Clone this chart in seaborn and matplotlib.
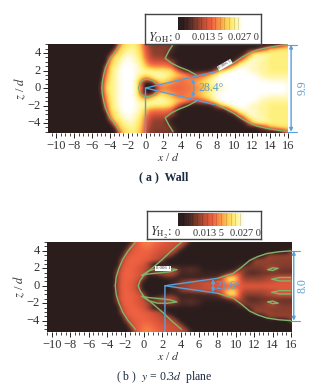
import numpy as np
import matplotlib
matplotlib.use("Agg")
import matplotlib.pyplot as plt
from matplotlib.colors import LinearSegmentedColormap
from matplotlib.ticker import MultipleLocator
from matplotlib.transforms import ScaledTranslation
import seaborn as sns

# field values in 1e-3, columns x = -6 ... 16 every 0.5 d, rows z = 0 ... 5 every 0.5 d
oh_z00 = [1,1,6,20,23, 24,26,27,27,27, 25,16,2,1,4, 14,15,15,14,14, 14,15,15,16,17, 18,20,22,23,25, 26,27,27,27,27, 27,27,27,27,27, 27,27,27,27,26]
oh_z05 = [1,1,5,19,23, 24,26,27,27,27, 24,12,2,1,6, 18,19,18,16,15, 15,15,16,17,19, 21,23,25,26,27, 27,27,27,27,27, 27,27,27,27,27, 27,27,27,27,26]
oh_z10 = [1,1,3,17,22, 24,26,27,27,27, 25,19,13,16,22, 23,23,21,19,16, 14,16,16,17,18, 20,22,24,26,27, 27,27,27,27,27, 27,27,27,26,26, 25,25,25,25,25]
oh_z15 = [1,1,2,15,22, 24,26,27,27,27, 26,24,23,24,25, 25,25,24,22,21, 20,18,14,10,12, 14,17,22,25,27, 27,27,27,27,27, 27,27,26,25,24, 24,24,24,24,24]
oh_z20 = [1,1,1,12,21, 24,26,27,27,27, 26,25,24,24,23, 23,23,22,21,15, 8,3,2,2,2, 2,2,4,12,20, 24,26,27,27,27, 26,25,25,24,24, 23,23,23,23,23]
oh_z25 = [1,1,1,8,21, 23,25,27,27,27, 26,24,20,17,16, 16,16,15,13,4, 2,2,2,2,2, 2,2,2,2,2, 4,15,22,25,26, 26,25,25,24,24, 23,23,23,23,23]
oh_z30 = [1,1,1,2,18, 22,24,26,27,26, 25,23,18,13,12, 12,12,12,9,4, 2,2,2,2,2, 2,2,2,2,2, 2,2,5,18,22, 25,26,25,24,24, 23,23,23,23,23]
oh_z35 = [1,1,1,1,13, 22,23,25,26,26, 24,22,15,11,9, 9,9,6,2,2, 2,2,2,2,2, 2,2,2,2,2, 2,2,2,3,12, 21,24,25,25,24, 23,23,23,23,23]
oh_z40 = [1,1,1,1,3, 17,21,23,25,25, 23,21,14,10,8, 8,8,6,3,2, 2,2,2,2,2, 2,2,2,2,2, 2,2,2,2,2, 10,20,23,24,24, 24,23,23,23,23]
oh_z45 = [1,1,1,1,1, 5,20,22,23,24, 23,20,13,9,8, 8,8,8,5,2, 2,2,2,2,2, 2,2,2,2,2, 2,2,2,2,2, 2,2,3,8,12, 18,20,22,22,22]
oh_z50 = [1,1,1,1,1, 1,12,21,22,23, 22,19,12,8,7, 7,7,7,7,4, 2,2,2,2,2, 2,2,2,2,2, 2,2,2,2,2, 2,2,2,2,2, 2,2,3,8,14]

h2_z00 = [1,1,1,1,1, 1,9,13,14,13, 12,8,1,1,1, 1,1,2,8,9, 9,9,10,10,10, 11,11,11,12,12, 13,13,13,13,13, 13,13,13,13,13, 13,13,13,13,13]
h2_z05 = [1,1,1,1,1, 1,8,13,14,13, 12,9,2,1,1, 1,1,1,2,3, 8,9,10,11,11, 12,12,13,13,15, 19,21,18,12,10, 10,10,10,10,11, 11,12,12,12,12]
h2_z10 = [1,1,1,1,1, 1,8,13,14,14, 13,12,9,2,1, 2,4,6,6,4, 3,3,3,3,3, 4,4,5,6,12, 21,23,19,10,8, 8,8,8,9,10, 11,12,12,12,12]
h2_z15 = [1,1,1,1,1, 1,8,13,14,14, 13,12,11,4,8, 10,11,11,11,9, 4,5,5,5,4, 3,3,3,3,3, 5,8,12,10,6, 5,5,6,6,6, 6,6,6,6,6]
h2_z20 = [1,1,1,1,1, 1,5,12,14,14, 13,12,11,10,6, 6,7,8,8,7, 5,5,6,5,4, 2,2,2,2,2, 2,2,4,8,8, 7,7,7,8,10, 10,8,7,7,7]
h2_z25 = [1,1,1,1,1, 1,1,11,13,14, 14,13,12,8,3, 2,2,2,2,2, 2,2,2,2,2, 1,1,1,1,1, 1,1,2,3,4, 7,8,8,8,8, 8,8,8,8,8]
h2_z30 = [1,1,1,1,1, 1,1,9,13,14, 14,14,13,13,12, 11,8,2,1,1, 1,1,1,1,1, 1,1,1,1,1, 1,1,1,1,1, 3,9,9,9,9, 8,8,8,8,8]
h2_z35 = [1,1,1,1,1, 1,1,3,12,13, 14,14,14,13,12, 11,11,10,7,2, 1,1,1,1,1, 1,1,1,1,1, 1,1,1,1,1, 1,1,1,4,9, 9,9,9,9,9]
h2_z40 = [1,1,1,1,1, 1,1,1,8,12, 13,14,14,14,13, 12,11,11,11,9, 2,1,1,1,1, 1,1,1,1,1, 1,1,1,1,1, 1,1,1,1,1, 1,1,1,2,9]
h2_z45 = [1,1,1,1,1, 1,1,1,2,11, 13,14,15,15,14, 13,12,12,11,11, 10,3,1,1,1, 1,1,1,1,1, 1,1,1,1,1, 1,1,1,1,1, 1,1,1,1,1]
h2_z50 = [1,1,1,1,1, 1,1,1,1,4, 12,14,16,16,15, 14,13,12,12,11, 11,10,4,1,1, 1,1,1,1,1, 1,1,1,1,1, 1,1,1,1,1, 1,1,1,1,1]

# green contour lines, upper half (mirrored in z when drawn)
oh_front_x = [-2.9,-3.2,-3.5,-3.9,-4.2,-4.5,-4.7,-4.85,-4.9]
oh_front_z = [5,4.5,4,3.5,3,2.3,1.5,0.7,0]
oh_hole_x = [-0.8,-0.6,-0.2,0.3,0.8,1.2]
oh_hole_z = [0,0.6,0.95,1.0,0.85,0.5]
oh_inner_x = [3.1,2.6,2.2,2.9,3.8,4.8,5.7]
oh_inner_z = [5,4.2,3.4,2.85,2.4,2.0,1.5]
oh_edge_x = [8,8.6,9.85,10.8,11.7,12.5,13.6,15,16]
oh_edge_z = [1.9,2.2,2.85,3.5,4,4.35,4.6,4.85,4.95]

h2_outer_x = [-0.9,-1.7,-2.3,-2.7,-3.0,-3.1]
h2_outer_z = [5,4,3,2,1,0]
h2_inner_x = [4.1,3,2,0.9,0,-0.4,-0.6]
h2_inner_z = [5,4,3,2,1.2,0.6,0]
h2_edge_x = [8,9.7,10.6,11.5,12.4,13.4,14.7,16]
h2_edge_z = [0.85,1.4,2.1,2.9,3.35,3.7,3.9,4]
h2_pocket_x = [-0.2,0.5,1.5,2.6,3.6,2.8,1.5,0.5,-0.2]
h2_pocket_z = [1.2,1.7,2.0,2.0,1.85,1.6,1.45,1.35,1.2]
h2_small_x = [13.5,14,14.6,14,13.5]
h2_small_z = [1.85,2.05,2.0,1.75,1.85]
h2_finger_x = [16,14.8,13.9,14.8,16]
h2_finger_z = [0.95,0.95,0.75,0.55,0.55]

bar_ticks = [0, 0.0135, 0.027]
bar_labels = ["0", "0.013 5", "0.027 0"]
x_ticks = list(range(-10, 17, 2))
z_ticks = [-4, -2, 0, 2, 4]

BLUE = "#5b9fd8"
GREEN = "#7fb56a"
TEXT = "#333333"
W, H = 335, 387

sns.set_theme(style="white")
plt.rcParams["font.family"] = ["Liberation Serif", "DejaVu Serif"]
plt.rcParams["mathtext.fontset"] = "stix"

flame = LinearSegmentedColormap.from_list("flame", [
    (0, "#291c1c"), (0.08, "#2e1f1e"), (0.18, "#4d2a25"), (0.3, "#8c3f2e"), (0.45, "#d9553a"),
    (0.52, "#ee6242"), (0.65, "#fb9a45"), (0.75, "#fdd052"), (0.86, "#fff282"), (1, "#ffffff")])


def box(px_left, px_top, px_right, px_bottom):
    return [px_left / W, 1 - px_bottom / H, (px_right - px_left) / W, (px_bottom - px_top) / H]


def build_field(rows):
    # rows run from z = 5 down to z = 0, the lower half is the mirror
    half = np.array(rows, dtype=float) / 1000
    half = np.pad(half, ((0, 0), (10, 0)), constant_values=0.001)
    return np.vstack([half, half[-2::-1]])


def draw_panel(fig, rows, axes_px, box_px, bar_px, xlim, ylim, name):
    field = build_field(rows)
    ax = fig.add_axes(box(*axes_px))
    legend = fig.add_axes(box(*box_px))
    legend.set_xticks([])
    legend.set_yticks([])
    for s in legend.spines.values():
        s.set_color("#444444")
        s.set_linewidth(1)
    cax = fig.add_axes(box(*bar_px))
    sns.heatmap(field, ax=ax, cmap=flame, vmin=0, vmax=0.027, cbar_ax=cax,
                cbar_kws={"orientation": "horizontal", "ticks": bar_ticks})
    # smooth the same cells for display
    mesh = ax.collections[0]
    mesh.set_visible(False)
    ax.imshow(field, cmap=flame, vmin=0, vmax=0.027, origin="upper", aspect="auto",
              interpolation="bicubic", extent=[-11.25, 16.25, -5.25, 5.25])
    ax.set_xlim(*xlim)
    ax.set_ylim(*ylim)
    ax.set_xticks(x_ticks)
    ax.set_xticklabels([str(t).replace("-", "\u2212") for t in x_ticks], rotation=0, fontsize=9, color=TEXT)
    ax.set_yticks(z_ticks)
    ax.set_yticklabels([str(t).replace("-", "\u2212") for t in z_ticks], rotation=0, va="center", fontsize=9, color=TEXT)
    ax.xaxis.set_minor_locator(MultipleLocator(0.5))
    ax.yaxis.set_minor_locator(MultipleLocator(0.5))
    ax.tick_params(which="major", bottom=True, left=True, length=3.5, width=0.7, color="#222222", pad=1.5)
    ax.tick_params(which="minor", bottom=True, left=True, length=2, width=0.6, color="#222222")
    ax.set_xlabel("$x$ / $d$", fontsize=8.5, color=TEXT, labelpad=0)
    ax.set_ylabel("$z$ / $d$", fontsize=9, color=TEXT, labelpad=0)
    for s in ax.spines.values():
        s.set_visible(False)

    cax.set_xticklabels(bar_labels, fontsize=7.5, color=TEXT)
    cax.tick_params(length=0, pad=2.5)
    # first two labels sit a little left of their ticks
    shifts = [-1, -3, 0]
    for label, dx in zip(cax.get_xticklabels(), shifts):
        label.set_transform(label.get_transform() + ScaledTranslation(dx / 100, 0, fig.dpi_scale_trans))
    cax.vlines(np.arange(1, 14) * 0.027 / 14, 0, 1, colors="#00000030", linewidth=0.5,
               transform=cax.get_xaxis_transform())
    legend.text(0.03, 0.2, name, transform=legend.transAxes, fontsize=9, color=TEXT, va="center")
    return ax


def green(ax, xs, zs, mirror=True):
    sns.lineplot(x=xs, y=zs, ax=ax, color=GREEN, lw=1.0, sort=False, estimator=None, legend=False)
    if mirror:
        sns.lineplot(x=xs, y=[-z for z in zs], ax=ax, color=GREEN, lw=1.0, sort=False, estimator=None, legend=False)


def blue_arrow(ax, start, end, rad=0.0, lw=1.0):
    ax.annotate("", xy=end, xytext=start, annotation_clip=False,
                arrowprops=dict(arrowstyle="<|-|>", color=BLUE, lw=lw, shrinkA=0, shrinkB=0,
                                mutation_scale=5, connectionstyle=f"arc3,rad={rad}"))


fig = plt.figure(figsize=(W / 100, H / 100), dpi=100, facecolor="white")

# panel a
ax_a = draw_panel(fig, [oh_z50, oh_z45, oh_z40, oh_z35, oh_z30, oh_z25, oh_z20, oh_z15, oh_z10, oh_z05, oh_z00],
                  (48, 44, 288, 133), (145, 14, 261, 44), (178, 17, 243, 30),
                  (-10.95, 16), (-5.14, 5.03), r"$Y_{\mathrm{OH}}$:")
green(ax_a, oh_front_x, oh_front_z)
green(ax_a, oh_hole_x, oh_hole_z)
green(ax_a, oh_inner_x, oh_inner_z)
green(ax_a, oh_edge_x, oh_edge_z)
ax_a.plot([0, 0, 8], [-5.14, 0, 1.9], color=BLUE, lw=1)
ax_a.plot([0, 7.8], [0, -1.9], color=BLUE, lw=1)
blue_arrow(ax_a, (5.2, 1.05), (5.2, -1.05), rad=-0.2)
ax_a.text(5.9, 0, "28.4°", color=BLUE, fontsize=8.5, va="center")
blue_arrow(ax_a, (16.35, 4.95), (16.35, -5.0))
ax_a.plot([16, 17], [4.95, 4.95], color=BLUE, lw=0.8, clip_on=False)
ax_a.plot([16, 17], [-5.0, -5.0], color=BLUE, lw=0.8, clip_on=False)
ax_a.text(17.6, 0, "9.9", color=BLUE, fontsize=8.5, rotation=90, va="center", ha="center", clip_on=False)
ax_a.text(8.9, 2.65, "0.006 5", fontsize=3.5, rotation=30, color="#333333", ha="center", va="center",
          bbox=dict(fc="white", ec="none", pad=0.3))

# panel b
ax_b = draw_panel(fig, [h2_z50, h2_z45, h2_z40, h2_z35, h2_z30, h2_z25, h2_z20, h2_z15, h2_z10, h2_z05, h2_z00],
                  (46.7, 241.7, 291, 332), (147, 211, 261, 239), (178, 213, 245, 226),
                  (-10.55, 16), (-5.3, 5.05), r"$Y_{\mathrm{H_2}}$:")
green(ax_b, h2_outer_x, h2_outer_z)
green(ax_b, h2_inner_x, h2_inner_z)
green(ax_b, h2_edge_x, h2_edge_z)
green(ax_b, h2_pocket_x, h2_pocket_z)
green(ax_b, h2_small_x, h2_small_z)
green(ax_b, h2_finger_x, h2_finger_z)
ax_b.plot([2.3, 2.3, 8], [-5.3, 0, 0.85], color=BLUE, lw=1)
ax_b.plot([2.3, 8], [0, -0.85], color=BLUE, lw=1)
blue_arrow(ax_b, (7.5, 0.75), (7.5, -0.75), rad=-0.05)
ax_b.text(7.8, 0, "21.6°", color=BLUE, fontsize=8.5, va="center")
blue_arrow(ax_b, (16.3, 4), (16.3, -4))
ax_b.plot([16, 17], [4, 4], color=BLUE, lw=0.8, clip_on=False)
ax_b.plot([16, 17], [-4, -4], color=BLUE, lw=0.8, clip_on=False)
ax_b.text(17.3, 0, "8.0", color=BLUE, fontsize=8.5, rotation=90, va="center", ha="center", clip_on=False)
ax_b.text(2.1, 2.0, "0.006 1", fontsize=3.5, color="#333333", ha="center", va="center",
          bbox=dict(fc="white", ec="none", pad=0.3))

fig.text(164 / W, 1 - 177 / H, "( a )  Wall", fontsize=8.5, color="#1a2a40", ha="center", va="center", fontweight="bold")
fig.text(164 / W, 1 - 377 / H, "( b )  $y$ = 0.3$d$  plane", fontsize=8.5, color="#1a2a40", ha="center", va="center")

fig.savefig("out.png", dpi=100)
